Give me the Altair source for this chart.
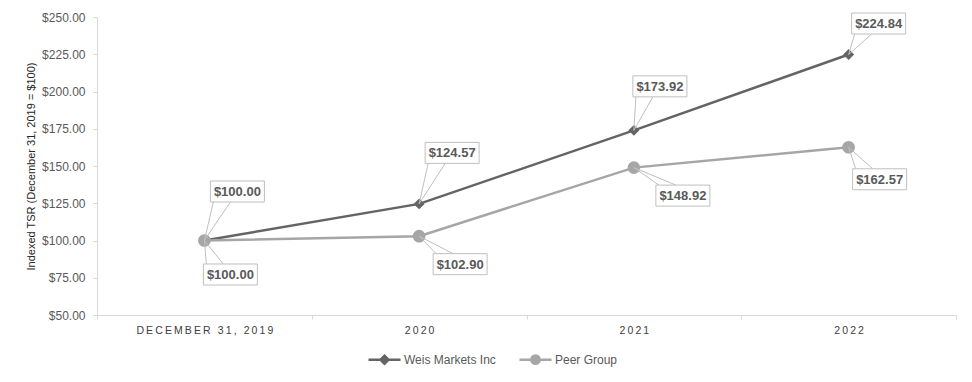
import altair as alt
import pandas as pd

# ---------------- data ----------------
categories = ["December 31, 2019", "2020", "2021", "2022"]
series_names = ["Weis Markets Inc", "Peer Group"]
weis_values = [100.00, 124.57, 173.92, 224.84]
peer_values = [100.00, 102.90, 148.92, 162.57]
y_ticks = [50, 75, 100, 125, 150, 175, 200, 225, 250]

rows = []
for s, vals in zip(series_names, [weis_values, peer_values]):
    for c, v in zip(categories, vals):
        rows.append({"period": c, "series": s, "value": v})
df = pd.DataFrame(rows)

# ---------------- styles ----------------
FONT = "Liberation Sans"
colors = {"Weis Markets Inc": "#646464", "Peer Group": "#a6a6a6"}
markers = {"Weis Markets Inc": ("diamond", 120), "Peer Group": ("circle", 160)}
legend_paths = {
    "Weis Markets Inc": "M-1,0H1M0,-0.25L0.25,0L0,0.25L-0.25,0Z",
    "Peer Group": "M-1,0H1M-0.26,0A0.26,0.26,0,1,0,0.26,0A0.26,0.26,0,1,0,-0.26,0Z",
}
# callout box centre offsets (pixels) from each point
label_offsets = {
    "Weis Markets Inc": [(33, -49), (33, -51), (26, -44), (30, -31)],
    "Peer Group": [(26, 34), (41, 28), (49, 28), (31, 32)],
}
BOX_W, BOX_H = 54, 21
box_path = "M-1,-%.4fH1V%.4fH-1Z" % (BOX_H / BOX_W, BOX_H / BOX_W)

x_scale = alt.Scale(type="band", paddingInner=0, paddingOuter=0)
y_scale = alt.Scale(domain=[50, 250], nice=False, zero=False)

x_axis = alt.Axis(
    title=None,
    labelExpr="join(split(upper(datum.label), ''), '\u2009')",
    labelFont=FONT, labelFontSize=10.5, labelColor="#404040",
    labelPadding=6, labelAngle=0,
    tickBand="extent", tickSize=4, tickColor="#d9d9d9",
    domainColor="#d9d9d9", domainWidth=1, grid=False,
)
y_axis = alt.Axis(
    title="Indexed TSR (December 31, 2019 = $100)",
    values=y_ticks, format="$,.2f", labelOverlap=False, labelFlush=False,
    labelFont=FONT, labelFontSize=12, labelColor="#595959", labelPadding=8,
    titleFont=FONT, titleFontSize=11, titleFontWeight="normal",
    titleColor="#262626", titlePadding=5,
    tickSize=4, tickColor="#d9d9d9", domainColor="#d9d9d9", grid=False,
)


def X():
    return alt.X("period:N", sort=categories, scale=x_scale, bandPosition=0.5, axis=x_axis)


def Y():
    return alt.Y("value:Q", scale=y_scale, axis=y_axis)


base = alt.Chart(df)
layers = []

# lines and markers
for s in series_names:
    sub = base.transform_filter(alt.datum.series == s)
    layers.append(
        sub.mark_line(color=colors[s], strokeWidth=2.5).encode(x=X(), y=Y())
    )
for s in series_names:
    sub = base.transform_filter(alt.datum.series == s)
    shp, sz = markers[s]
    layers.append(
        sub.mark_point(shape=shp, size=sz, filled=True, color=colors[s], opacity=1).encode(x=X(), y=Y())
    )

# callouts
for s in series_names:
    for i, c in enumerate(categories):
        dx, dy = label_offsets[s][i]
        sub = base.transform_filter((alt.datum.series == s) & (alt.datum.period == c))
        edge_y = dy + BOX_H / 2 if dy < 0 else dy - BOX_H / 2
        left = dx - BOX_W / 2
        for bx in (left + 3, left + 20):
            layers.append(
                sub.mark_rule(color="#bfbfbf", strokeWidth=1, x2Offset=bx, y2Offset=edge_y).encode(
                    x=X(), y=Y(),
                    x2=alt.X2("period:N", bandPosition=0.5),
                    y2=alt.Y2("value:Q"),
                )
            )
        layers.append(
            sub.mark_point(shape=box_path, size=BOX_W * BOX_W, filled=True, fill="white",
                           stroke="#bfbfbf", strokeWidth=1, opacity=1, fillOpacity=1,
                           xOffset=dx, yOffset=dy).encode(x=X(), y=Y())
        )
        layers.append(
            sub.mark_text(dx=dx, dy=dy + 0.5, font=FONT, fontSize=13, fontWeight="bold",
                          color="#595959", align="center", baseline="middle").encode(
                x=X(), y=Y(), text=alt.Text("value:Q", format="$,.2f")
            )
        )

# legend (drawn from scale domain only)
legend = alt.Legend(
    title=None, orient="none", direction="horizontal", legendX=270, legendY=325,
    labelFont=FONT, labelFontSize=12, labelColor="#595959", labelOffset=2,
    symbolSize=1024, symbolStrokeWidth=2.5, columnPadding=18,
)
scale_dom = dict(domain=series_names)
layers.append(
    base.transform_filter("datum.value < 0").mark_point(filled=True, strokeWidth=2.5, opacity=1).encode(
        x=X(), y=Y(),
        color=alt.Color("series:N", scale=alt.Scale(range=[colors[s] for s in series_names], **scale_dom), legend=legend),
        stroke=alt.Stroke("series:N", scale=alt.Scale(range=[colors[s] for s in series_names], **scale_dom), legend=legend),
        shape=alt.Shape("series:N", scale=alt.Scale(range=[legend_paths[s] for s in series_names], **scale_dom), legend=legend),
    )
)

chart = alt.layer(*layers).properties(
    width=859, height=298,
    autosize=alt.AutoSizeParams(type="none"),
    padding={"left": 89, "top": 9, "right": 8, "bottom": 59},
    background="white",
).configure_view(stroke=None)

chart.save("out.html", embed_options={"renderer": "svg", "actions": False})
